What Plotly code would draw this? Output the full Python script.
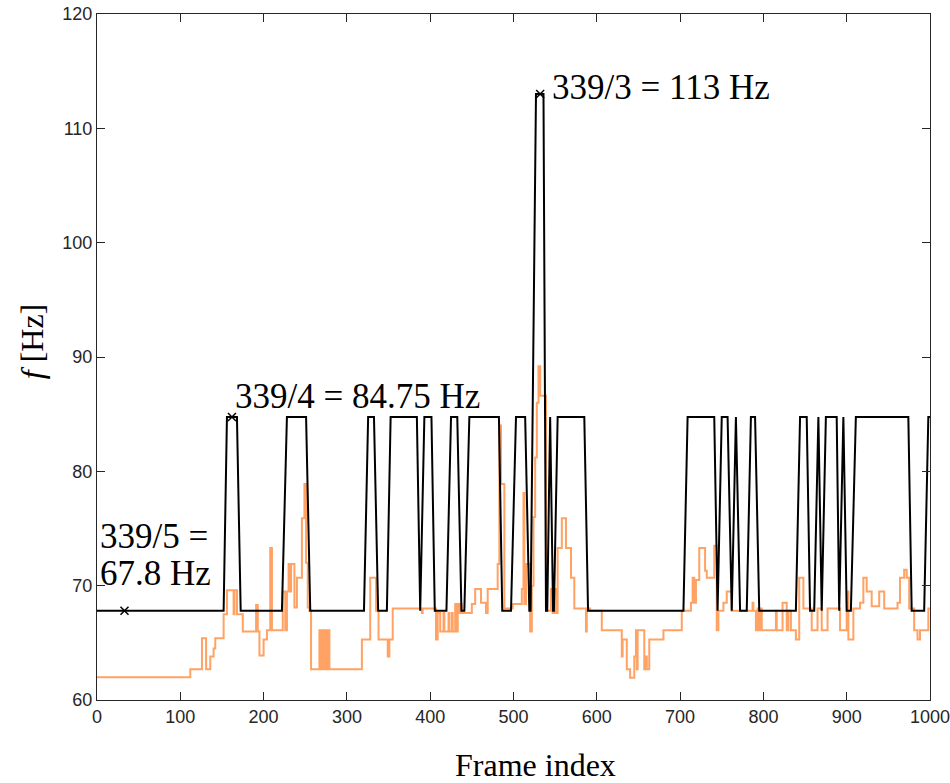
import plotly.graph_objects as go

# ---- data ----
L, H, T = 67.8, 84.75, 113.0

black_frames = [0, 152, 156, 168, 172.5, 222, 228, 251, 256, 320.5, 325.5, 332.5, 337.5,
                348, 352.5, 384, 388, 393, 401.5, 405.5, 419.5, 425, 432.5, 437.5, 441,
                447, 482.5, 486.5, 497, 503, 514, 519, 520.5, 527, 536, 539, 540.5, 544,
                547.5, 548.5, 553, 585, 589.5, 704, 709, 741, 745, 750, 757, 762, 767,
                772, 780, 785, 790, 795, 839, 844, 852, 856, 861, 866, 870, 875, 888,
                891, 896, 900, 905, 911, 974, 978, 993, 998, 1000]
black_f = [L, L, H, H, L, L, H, H, L, L, H, H, L,
           L, H, H, L, H, H, L, L, H, H, L, L,
           H, H, L, L, H, H, L, L, T, T, L, L, H,
           L, L, H, H, L, L, H, H, L, H, H, L, H,
           L, L, H, H, L, L, H, H, L, L, H, L, H, H,
           L, H, L, L, H, H, L, L, H, H]

orange_frames = [0, 112, 126, 131, 136, 140, 142, 152, 156, 164, 165, 168, 175, 191, 193,
                 195, 200, 204, 208, 210, 223, 226, 228, 230, 232, 233, 237, 240, 246, 249,
                 251, 253, 255, 257, 267, 269, 271, 272, 274, 276, 278, 279, 318, 328, 335,
                 338, 349, 351, 355, 390, 391, 407, 409, 412, 416, 417, 422, 423, 426, 427,
                 430, 432, 433, 435, 436, 438, 450, 454, 461, 467, 469, 481, 483, 485, 489,
                 499, 510, 512, 513, 515, 520, 522, 524, 526, 528, 530, 532, 539, 545, 547,
                 549, 551, 553, 558, 563, 569, 573, 587, 588, 592, 606, 630, 631, 636, 640,
                 645, 647, 648, 649, 657, 658, 660, 663, 680, 702, 713, 715, 717, 719, 723,
                 730, 732, 741, 744, 746, 752, 756, 762, 787, 788, 791, 793, 795, 796, 798,
                 815, 816, 823, 828, 830, 833, 839, 843, 848, 858, 865, 870, 877, 892, 900,
                 902, 908, 916, 920, 924, 930, 939, 945, 961, 964, 969, 972, 975, 981, 985,
                 988, 998, 1000]
orange_f = [62.0, 62.7, 65.4, 62.7, 63.8, 64.5, 65.4, 67.5, 69.6, 67.5, 69.6, 67.5, 66.0, 68.3, 66.0,
            63.9, 65.3, 66.1, 73.3, 66.1, 69.5, 66.1, 69.5, 71.9, 69.5, 71.9, 68.1, 70.7, 75.9, 78.9,
            72.0, 68.1, 67.8, 62.7, 66.1, 62.7, 66.1, 62.7, 66.1, 62.7, 66.1, 62.7, 65.3, 70.7, 67.8,
            65.3, 63.8, 65.3, 68.0, 67.6, 68.0, 65.3, 67.6, 66.0, 67.6, 66.0, 67.6, 66.0, 67.6, 66.0,
            68.4, 66.0, 68.4, 67.6, 68.4, 67.6, 68.4, 69.7, 68.5, 67.6, 69.7, 71.9, 84.0, 78.9, 68.0,
            68.4, 69.7, 78.1, 68.4, 71.9, 66.0, 70.0, 76.0, 81.2, 86.0, 89.2, 86.6, 67.8, 69.7, 67.6,
            69.7, 67.6, 73.3, 75.9, 73.3, 70.7, 68.0, 66.0, 68.0, 67.8, 66.1, 63.8, 65.3, 62.7, 61.95,
            63.8, 66.1, 62.7, 66.1, 62.7, 63.8, 62.7, 65.3, 66.1, 67.8, 68.5, 70.7, 68.5, 70.5, 73.3,
            71.3, 70.7, 73.5, 66.1, 67.8, 68.5, 69.5, 67.8, 68.5, 67.8, 66.1, 68.0, 66.1, 68.0, 66.1,
            67.8, 66.1, 68.5, 66.1, 67.8, 66.1, 65.3, 70.7, 68.0, 66.1, 68.0, 66.1, 68.0, 66.1, 69.5,
            65.3, 68.0, 68.5, 70.7, 69.5, 68.2, 69.5, 68.0, 68.5, 70.7, 71.4, 70.7, 68.0, 66.1, 65.3,
            66.1, 68.0, 68.0]

marker_frames = [33, 162, 532]
marker_f = [L, H, T]
marker_text = ["339/5 =", "67.8 Hz", "339/4 = 84.75 Hz", "339/3 = 113 Hz"]

x_ticks = [0, 100, 200, 300, 400, 500, 600, 700, 800, 900, 1000]
y_ticks = [60, 70, 80, 90, 100, 110, 120]

# ---- figure ----
fig = go.Figure()
fig.add_trace(go.Scatter(x=orange_frames, y=orange_f, mode="lines", line_shape="hv",
                         line=dict(color="#FFA263", width=2), showlegend=False))
fig.add_trace(go.Scatter(x=black_frames, y=black_f, mode="lines",
                         line=dict(color="black", width=2), showlegend=False))
fig.add_trace(go.Scatter(x=marker_frames, y=marker_f, mode="markers",
                         marker=dict(symbol="x-thin", size=8, line=dict(color="black", width=1.5)),
                         showlegend=False))

serif = "Liberation Serif"
afont = dict(family=serif, size=35, color="black")
# annotations
fig.add_annotation(x=0, y=marker_f[0], text=marker_text[0], showarrow=False, xanchor="left",
                   yanchor="middle", xshift=1, yshift=74, font=afont)
fig.add_annotation(x=0, y=marker_f[0], text=marker_text[1], showarrow=False, xanchor="left",
                   yanchor="middle", xshift=1, yshift=37, font=afont)
fig.add_annotation(x=marker_frames[1], y=marker_f[1], text=marker_text[2], showarrow=False,
                   xanchor="left", yanchor="middle", xshift=1, yshift=21, font=afont)
fig.add_annotation(x=marker_frames[2], y=marker_f[2], text=marker_text[3], showarrow=False,
                   xanchor="left", yanchor="middle", xshift=10, yshift=7, font=afont)

# axis titles
fig.add_annotation(xref="paper", yref="paper", x=0.527, y=-0.095, text="Frame index",
                   showarrow=False, xanchor="center", yanchor="middle",
                   font=dict(family=serif, size=32, color="black"))
fig.add_annotation(xref="paper", yref="paper", x=-0.078, y=0.523, text="<i>f</i> [Hz]",
                   showarrow=False, xanchor="center", yanchor="middle", textangle=-90,
                   font=dict(family=serif, size=32, color="black"))

axis_common = dict(showline=True, linecolor="#262626", linewidth=1, mirror="allticks",
                   ticks="inside", ticklen=8, tickcolor="#262626", tickwidth=1,
                   showgrid=False, zeroline=False, ticklabeloverflow="allow", automargin=False,
                   tickfont=dict(family="Liberation Sans", size=18, color="#262626"))

fig.update_xaxes(range=[0, 1000], tickvals=x_ticks, ticktext=[str(v) for v in x_ticks],
                 **axis_common)
fig.update_yaxes(range=[60, 120], tickvals=y_ticks, ticktext=[str(v) for v in y_ticks],
                 **axis_common)

fig.update_layout(width=950, height=783,
                  margin=dict(l=97, r=20, t=14, b=83, autoexpand=False),
                  paper_bgcolor="white", plot_bgcolor="white")

fig.write_html("out.html")
